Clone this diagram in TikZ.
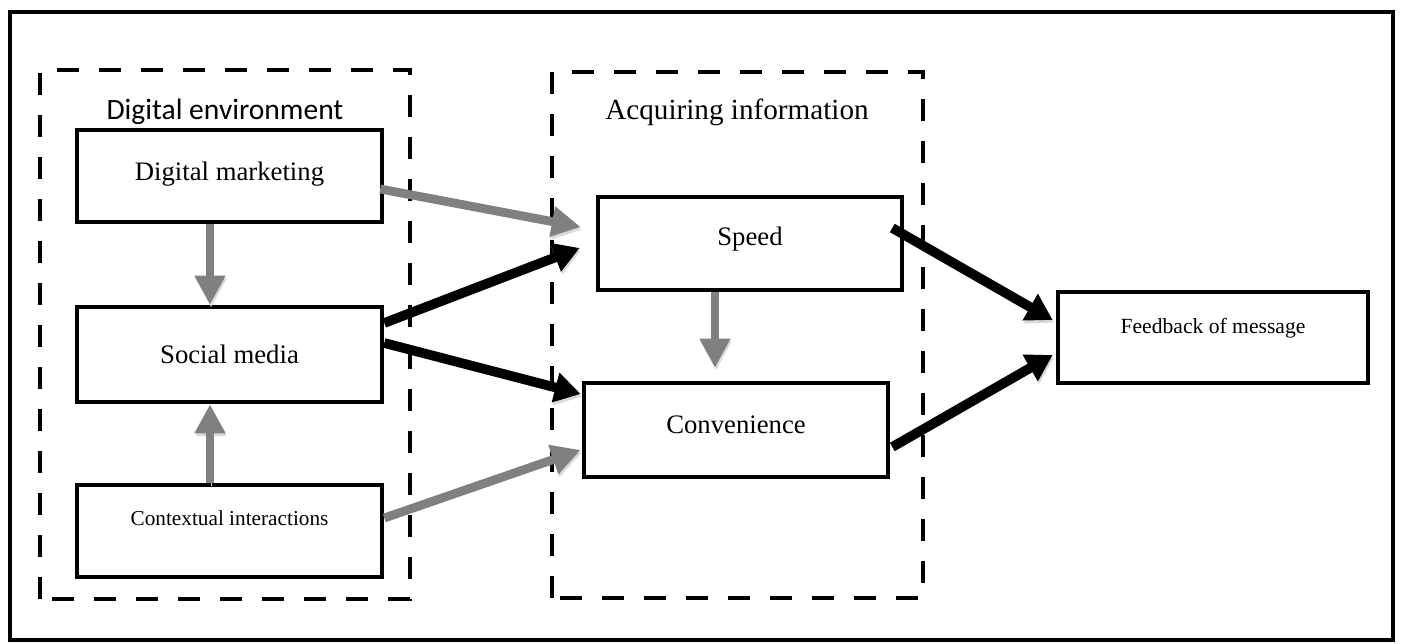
\documentclass[tikz,border=0pt]{standalone}
\usepackage{fontspec}
\setmainfont{Liberation Serif}
\newfontfamily\calibrifont{Carlito}
\usepackage{tikz}
\usetikzlibrary{positioning}
\usetikzlibrary{calc,arrows.meta}

\tikzset{
	box/.style={draw, line width=2.6pt, minimum width=6.1cm, minimum height=1.84cm, inner sep=0pt},
	group/.style={draw, line width=2.4pt, dash pattern=on 0.44cm off 0.4cm},
	garrow/.style={draw=black!50, line width=5pt, -{Triangle[length=0.58cm,width=0.58cm]},
		preaction={draw=black!15, transform canvas={shift={(0.6pt,-1.6pt)}}}},
	barrow/.style={draw=black, line width=5.5pt, -{Triangle[length=0.52cm,width=0.58cm]},
		preaction={draw=black!15, transform canvas={shift={(0.6pt,-1.6pt)}}}}
}

\begin{document}
\begin{tikzpicture}
		%\draw[gray,step=1] (0,0) grid (28,13);
		\useasboundingbox (0,0) rectangle (28.06,12.86);
		\draw[line width=1.8pt] (0.2,0.06) rectangle (27.86,12.62);
		\draw[group] (0.8,0.88) rectangle (8.2,11.46);
		\draw[group] (11.04,0.9) rectangle (18.46,11.42);
		\node (envlabel) at (4.5,10.62) {\calibrifont\fontsize{16.8}{19}\selectfont Digital environment};
		\node (acqlabel) at (14.74,10.62) {\fontsize{16.6}{19}\selectfont Acquiring information};
		\node[box, font=\fontsize{15.2}{18}\selectfont, text depth=0.2cm] (dm) at (4.59,9.34) {Digital marketing};
		\node[box, minimum height=1.9cm, font=\fontsize{15.2}{18}\selectfont] (sm) at (4.59,5.77) {Social media};
		\node[box, font=\fontsize{12.1}{14}\selectfont, text depth=0.5cm] (ci) at (4.59,2.24) {Contextual interactions};
		\node[box, minimum width=6.08cm, minimum height=1.86cm, font=\fontsize{15.2}{18}\selectfont, text depth=0.3cm] (speed) at (15.0,7.99) {Speed};
		\node[box, minimum width=6.08cm, minimum height=1.88cm, font=\fontsize{15.2}{18}\selectfont, text depth=0.2cm] (conv) at (14.72,4.26) {Convenience};
		\node[box, minimum width=6.2cm, minimum height=1.82cm, font=\fontsize{12.3}{14}\selectfont, text depth=0.45cm] (fb) at (24.26,6.11) {Feedback of message};
		\draw[garrow] ($(dm.south)+(-0.39,0)$) -- ($(sm.north)+(-0.39,0)$);
		\draw[garrow] ($(ci.north)+(-0.39,0)$) -- ($(sm.south)+(-0.39,0)$);
		\draw[garrow] ($(dm.east)+(-0.08,-0.26)$) -- ($(speed.west)+(-0.3,0.33)$);
		\draw[barrow] ($(sm.east)+(0,0.63)$) -- ($(speed.west)+(-0.32,-0.09)$);
		\draw[barrow] ($(sm.east)+(0,0.23)$) -- ($(conv.west)+(-0.02,0.72)$);
		\draw[garrow] ($(ci.east)+(0,0.26)$) -- ($(conv.west)+(-0.02,-0.4)$);
		\draw[garrow] ($(speed.south)+(-0.7,0)$) -- ($(conv.north)+(-0.42,0.26)$);
		\draw[barrow] ($(speed.east)+(-0.24,0.31)$) -- ($(fb.west)+(-0.06,0.35)$);
		\draw[barrow] ($(conv.east)+(0.04,-0.34)$) -- ($(fb.west)+(-0.06,-0.35)$);
	\end{tikzpicture}
\end{document}
